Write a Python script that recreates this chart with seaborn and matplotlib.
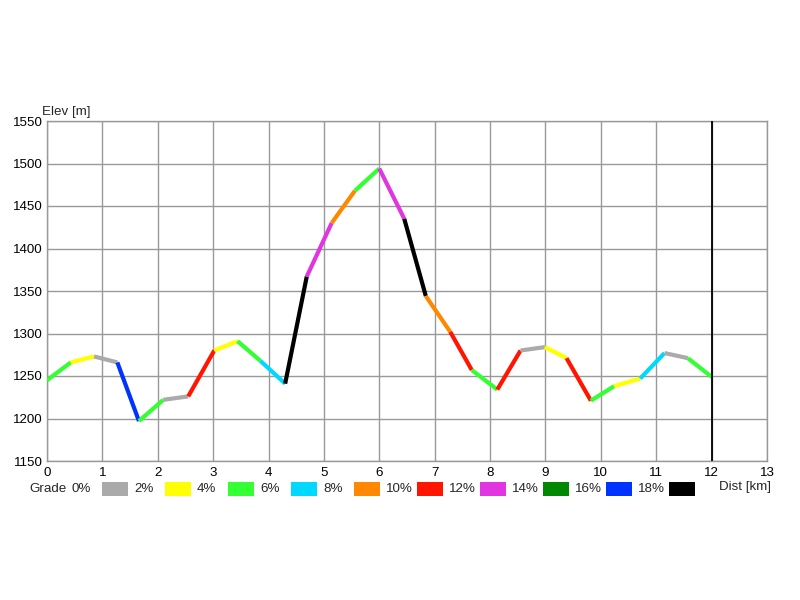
import seaborn as sns
import matplotlib.pyplot as plt
import pandas as pd
from matplotlib.patches import Rectangle

# profil : distance (km) et altitude (m)
dist_km = [0.0, 0.43, 0.85, 1.27, 1.66, 2.10, 2.55, 3.02, 3.44, 3.85, 4.30, 4.69, 5.14, 5.56,
           6.0, 6.45, 6.84, 7.28, 7.67, 8.13, 8.55, 8.99, 9.38, 9.82, 10.24, 10.71, 11.15, 11.57, 12.0]
elev_m = [1245, 1266, 1273, 1266, 1197, 1222, 1226, 1280, 1291, 1268, 1241, 1367, 1430, 1468,
          1494, 1435, 1344, 1302, 1257, 1234, 1280, 1284, 1271, 1221, 1238, 1247, 1277, 1271, 1249]
# classe de pente de chaque segment (index dans grade_labels)
seg_grade = [2, 1, 0, 8, 2, 0, 5, 1, 2, 3, 9, 6, 4, 2,
             6, 9, 4, 5, 2, 5, 0, 1, 5, 2, 1, 3, 0, 2]

grade_labels = ["0%", "2%", "4%", "6%", "8%", "10%", "12%", "14%", "16%", "18%"]
grade_colors = ["#aaaaaa", "#ffff00", "#33ff33", "#00d8ff", "#ff8800",
                "#ff1500", "#e035e0", "#008800", "#0033ff", "#000000"]
x_ticks = list(range(0, 14))
y_ticks = list(range(1150, 1551, 50))

# un segment = deux points, identifié par "seg"
rows = []
for i, g in enumerate(seg_grade):
    rows.append({"seg": i, "dist": dist_km[i], "elev": elev_m[i]})
    rows.append({"seg": i, "dist": dist_km[i + 1], "elev": elev_m[i + 1]})
df = pd.DataFrame(rows)
palette = {i: grade_colors[g] for i, g in enumerate(seg_grade)}

sns.set_style("white")
plt.rcParams['font.family'] = ['Liberation Sans', 'DejaVu Sans']

fig = plt.figure(figsize=(8, 6), dpi=100)
ax = fig.add_axes([47 / 800, 1 - 461 / 600, 720 / 800, 340 / 600])

sns.lineplot(data=df, x="dist", y="elev", hue="seg", palette=palette, legend=False,
             estimator=None, sort=False, linewidth=3, ax=ax, solid_capstyle="butt", zorder=3)

ax.axvline(dist_km[-1], color="black", linewidth=1.3, zorder=4)

fs = 9.6
ax.set_xlim(0, 13)
ax.set_ylim(1150, 1550)
ax.set_xticks(x_ticks)
ax.set_yticks(y_ticks)
ax.grid(True, color="#999999", linewidth=1)
ax.tick_params(length=0, labelsize=fs, colors="black")
ax.tick_params(axis="y", pad=3)
ax.tick_params(axis="x", pad=4)
for s in ax.spines.values():
    s.set_color("#999999")
    s.set_linewidth(1)
ax.set_xlabel("")
ax.set_ylabel("")

fig.text(42 / 800, 1 - 112 / 600, "Elev [m]", fontsize=fs, va="center", ha="left")
fig.text(719 / 800, 1 - 487 / 600, "Dist [km]", fontsize=fs, va="center", ha="left")
fig.text(29 / 800, 1 - 489 / 600, "Grade", fontsize=fs, va="center", ha="left")

# légende des pentes : libellé puis pastille
for i, (lab, col) in enumerate(zip(grade_labels, grade_colors)):
    fig.text((71 + 63 * i) / 800, 1 - 489 / 600, lab, fontsize=fs, va="center", ha="left")
    fig.patches.append(Rectangle(((102 + 63 * i) / 800, 1 - 496 / 600), 26 / 800, 14 / 600,
                                 transform=fig.transFigure, facecolor=col, edgecolor="none"))

fig.savefig("out.png", dpi=100, facecolor="white")
